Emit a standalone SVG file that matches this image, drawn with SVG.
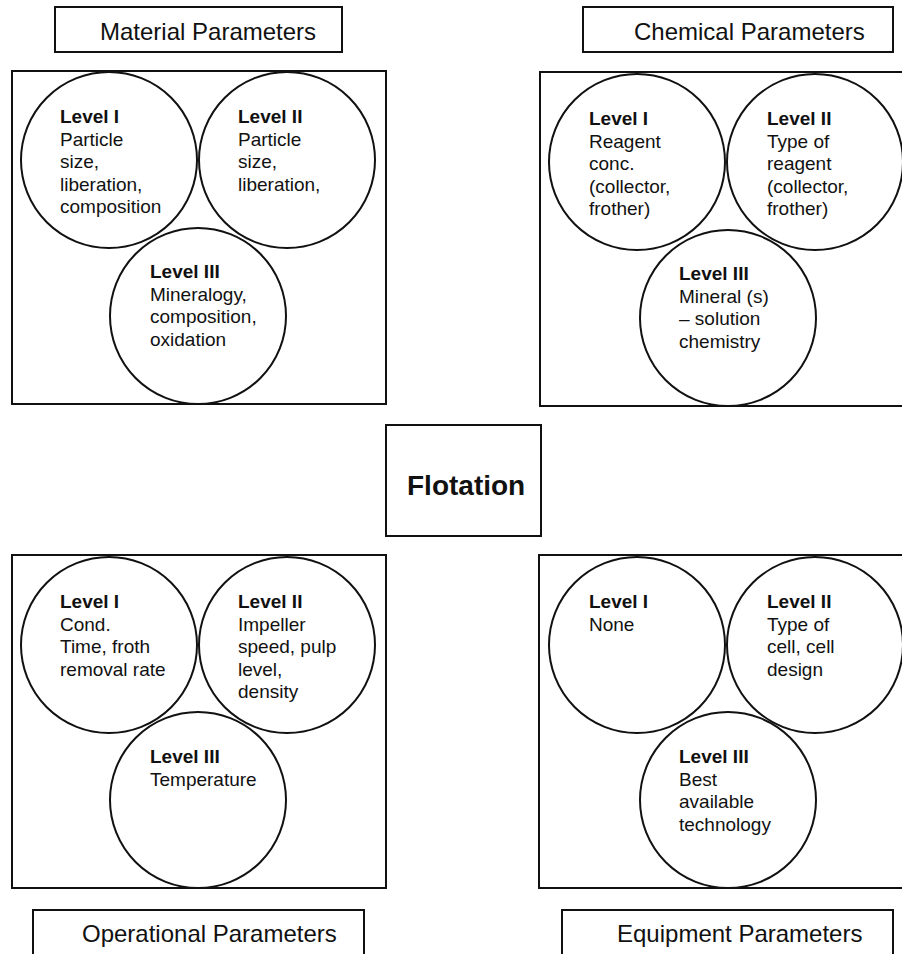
<svg xmlns="http://www.w3.org/2000/svg" width="902" height="954" viewBox="0 0 902 954">
<style>
.bg{fill:#fff}
.box{fill:#fff;stroke:#111;stroke-width:2}
.circ{fill:none;stroke:#111;stroke-width:2}
.lbl{font-family:"Liberation Sans",Arial,sans-serif;font-size:24px;fill:#111}
.t{font-family:"Liberation Sans",Arial,sans-serif;font-size:19px;fill:#111}
.b{font-weight:bold}
.flo{font-family:"Liberation Sans",Arial,sans-serif;font-size:28px;font-weight:bold;fill:#111}
</style>
<rect class="bg" x="0" y="0" width="902" height="954"/>

<g id="material-label">
<rect class="box" x="55" y="7" width="287" height="45"/>
<text class="lbl" x="100" y="40">Material Parameters</text>
</g>
<g id="chemical-label">
<rect class="box" x="583" y="7" width="310" height="45"/>
<text class="lbl" x="634" y="40">Chemical Parameters</text>
</g>

<g id="material-panel">
<rect class="box" x="12" y="71" width="374" height="333"/>
<circle class="circ" cx="109" cy="160" r="88"/>
<circle class="circ" cx="287" cy="160" r="88"/>
<circle class="circ" cx="198" cy="316" r="88"/>
<text class="t" x="60" y="123"><tspan class="b">Level I</tspan><tspan x="60" dy="22.5">Particle</tspan><tspan x="60" dy="22.5">size,</tspan><tspan x="60" dy="22.5">liberation,</tspan><tspan x="60" dy="22.5">composition</tspan></text>
<text class="t" x="238" y="123"><tspan class="b">Level II</tspan><tspan x="238" dy="22.5">Particle</tspan><tspan x="238" dy="22.5">size,</tspan><tspan x="238" dy="22.5">liberation,</tspan></text>
<text class="t" x="150" y="278"><tspan class="b">Level III</tspan><tspan x="150" dy="22.5">Mineralogy,</tspan><tspan x="150" dy="22.5">composition,</tspan><tspan x="150" dy="22.5">oxidation</tspan></text>
</g>

<g id="chemical-panel">
<rect class="box" x="540" y="72" width="370" height="334"/>
<circle class="circ" cx="637" cy="162" r="88"/>
<circle class="circ" cx="815" cy="162" r="88"/>
<circle class="circ" cx="728" cy="318" r="88"/>
<text class="t" x="589" y="125"><tspan class="b">Level I</tspan><tspan x="589" dy="22.5">Reagent</tspan><tspan x="589" dy="22.5">conc.</tspan><tspan x="589" dy="22.5">(collector,</tspan><tspan x="589" dy="22.5">frother)</tspan></text>
<text class="t" x="767" y="125"><tspan class="b">Level II</tspan><tspan x="767" dy="22.5">Type of</tspan><tspan x="767" dy="22.5">reagent</tspan><tspan x="767" dy="22.5">(collector,</tspan><tspan x="767" dy="22.5">frother)</tspan></text>
<text class="t" x="679" y="280"><tspan class="b">Level III</tspan><tspan x="679" dy="22.5">Mineral (s)</tspan><tspan x="679" dy="22.5">– solution</tspan><tspan x="679" dy="22.5">chemistry</tspan></text>
</g>

<g id="flotation">
<rect class="box" x="386" y="425" width="155" height="111"/>
<text class="flo" x="407" y="495">Flotation</text>
</g>

<g id="operational-panel">
<rect class="box" x="12" y="555" width="374" height="333"/>
<circle class="circ" cx="109" cy="645" r="88"/>
<circle class="circ" cx="287" cy="645" r="88"/>
<circle class="circ" cx="198" cy="800" r="88"/>
<text class="t" x="60" y="608"><tspan class="b">Level I</tspan><tspan x="60" dy="22.5">Cond.</tspan><tspan x="60" dy="22.5">Time, froth</tspan><tspan x="60" dy="22.5">removal rate</tspan></text>
<text class="t" x="238" y="608"><tspan class="b">Level II</tspan><tspan x="238" dy="22.5">Impeller</tspan><tspan x="238" dy="22.5">speed, pulp</tspan><tspan x="238" dy="22.5">level,</tspan><tspan x="238" dy="22.5">density</tspan></text>
<text class="t" x="150" y="763"><tspan class="b">Level III</tspan><tspan x="150" dy="22.5">Temperature</tspan></text>
</g>

<g id="equipment-panel">
<rect class="box" x="539" y="555" width="371" height="333"/>
<circle class="circ" cx="637" cy="645" r="88"/>
<circle class="circ" cx="815" cy="645" r="88"/>
<circle class="circ" cx="728" cy="800" r="88"/>
<text class="t" x="589" y="608"><tspan class="b">Level I</tspan><tspan x="589" dy="22.5">None</tspan></text>
<text class="t" x="767" y="608"><tspan class="b">Level II</tspan><tspan x="767" dy="22.5">Type of</tspan><tspan x="767" dy="22.5">cell, cell</tspan><tspan x="767" dy="22.5">design</tspan></text>
<text class="t" x="679" y="763"><tspan class="b">Level III</tspan><tspan x="679" dy="22.5">Best</tspan><tspan x="679" dy="22.5">available</tspan><tspan x="679" dy="22.5">technology</tspan></text>
</g>

<g id="operational-label">
<rect class="box" x="33" y="910" width="331" height="60"/>
<text class="lbl" x="82" y="942">Operational Parameters</text>
</g>
<g id="equipment-label">
<rect class="box" x="562" y="910" width="331" height="60"/>
<text class="lbl" x="617" y="942">Equipment Parameters</text>
</g>

<g id="connectors"></g>
</svg>
